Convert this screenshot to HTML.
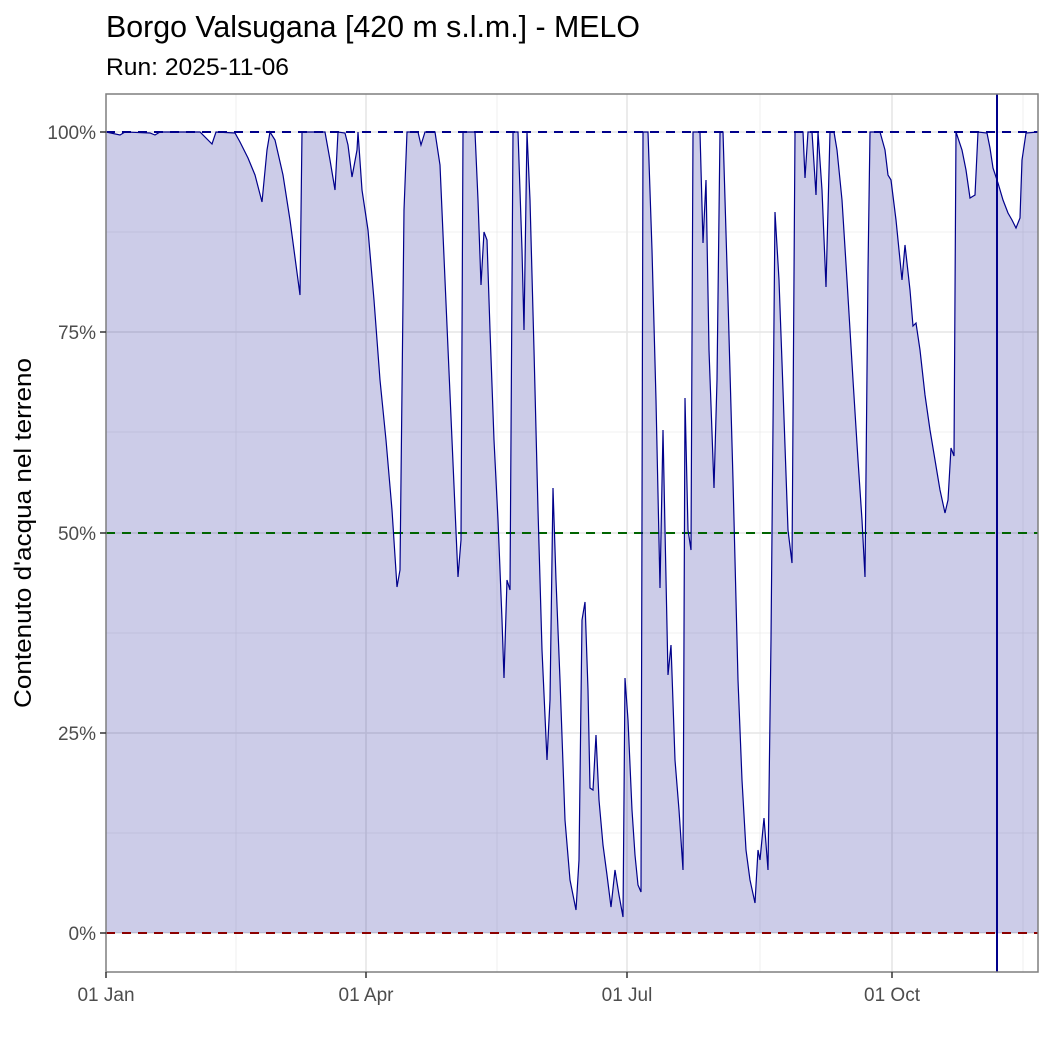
<!DOCTYPE html>
<html><head><meta charset="utf-8"><style>html,body{margin:0;padding:0;background:#fff}svg{display:block}</style></head>
<body>
<svg width="1050" height="1050" xmlns="http://www.w3.org/2000/svg" font-family="Liberation Sans, sans-serif">
<rect width="1050" height="1050" fill="#fff"/>
<text x="106" y="37" font-size="31" fill="#000" textLength="534" lengthAdjust="spacingAndGlyphs">Borgo Valsugana [420 m s.l.m.] - MELO</text>
<text x="106" y="75" font-size="24" fill="#000" textLength="183" lengthAdjust="spacingAndGlyphs">Run: 2025-11-06</text>
<g stroke="#ebebeb" stroke-width="0.8">
<line x1="106" x2="1038" y1="232" y2="232"/><line x1="106" x2="1038" y1="432" y2="432"/><line x1="106" x2="1038" y1="633" y2="633"/><line x1="106" x2="1038" y1="833" y2="833"/>
<line y1="94" y2="972" x1="236" x2="236"/><line y1="94" y2="972" x1="497" x2="497"/><line y1="94" y2="972" x1="760" x2="760"/><line y1="94" y2="972" x1="1023" x2="1023"/>
</g>
<g stroke="#e6e6e6" stroke-width="1.6">
<line x1="106" x2="1038" y1="132" y2="132"/><line x1="106" x2="1038" y1="332" y2="332"/><line x1="106" x2="1038" y1="533" y2="533"/><line x1="106" x2="1038" y1="733" y2="733"/><line x1="106" x2="1038" y1="933" y2="933"/>
<line y1="94" y2="972" x1="366" x2="366"/><line y1="94" y2="972" x1="627" x2="627"/><line y1="94" y2="972" x1="892" x2="892"/>
</g>
<polygon fill="rgba(0,0,139,0.2)" points="106,933 106,132 120,135 125,132 150,133 155,135 160,132 200,132 212,144 216,132 235,133 240,142 248,158 255,175 262,202 267,150 270,132 275,140 283,175 290,220 298,280 300,295 302,132 325,132 330,160 335,190 338,132 345,133 348,145 352,177 357,150 358,132 362,190 368,230 374,300 380,380 386,440 392,510 397,587 400,570 404,210 407,132 418,132 421,145 425,132 435,132 440,165 445,280 452,440 458,577 461,540 463,132 475,132 478,200 481,285 484,232 487,240 490,330 494,440 498,520 502,620 504,678 507,580 510,590 513,132 518,132 522,250 524,330 527,132 530,200 534,350 538,510 542,650 547,760 550,700 553,488 556,580 560,680 565,820 570,880 576,910 579,860 582,620 585,602 588,690 590,788 593,790 596,735 599,800 603,845 607,875 611,907 615,870 619,895 623,917 625,678 628,720 632,810 635,855 638,885 641,892 643,132 648,132 652,250 656,400 660,588 663,430 665,530 668,675 671,645 675,760 679,810 683,870 685,398 688,530 691,550 693,132 700,132 703,243 706,180 709,350 714,488 717,380 720,132 723,132 728,300 733,480 738,680 742,780 746,850 750,880 755,903 758,850 760,860 764,818 768,870 771,640 775,212 779,280 783,390 788,530 792,563 795,132 803,132 805,178 808,132 812,132 816,195 818,132 822,190 826,287 830,132 834,132 837,150 842,200 847,280 853,380 858,460 862,520 865,577 868,270 870,132 880,132 885,150 888,175 891,180 896,220 902,280 905,245 910,290 913,326 916,323 920,350 925,395 930,430 935,460 940,490 945,513 948,500 951,448 954,456 956,132 962,150 966,170 970,198 975,195 978,132 987,133 990,148 993,168 998,183 1003,200 1008,213 1012,220 1016,228 1020,218 1022,160 1026,133 1038,132 1038,933"/>
<g stroke-width="2" stroke-dasharray="9,7" fill="none">
<line x1="106" x2="1038" y1="132" y2="132" stroke="#00008b"/>
<line x1="106" x2="1038" y1="533" y2="533" stroke="#006400"/>
<line x1="106" x2="1038" y1="933" y2="933" stroke="#8b0000"/>
</g>
<polyline fill="none" stroke="#00008b" stroke-width="1.2" points="106,132 120,135 125,132 150,133 155,135 160,132 200,132 212,144 216,132 235,133 240,142 248,158 255,175 262,202 267,150 270,132 275,140 283,175 290,220 298,280 300,295 302,132 325,132 330,160 335,190 338,132 345,133 348,145 352,177 357,150 358,132 362,190 368,230 374,300 380,380 386,440 392,510 397,587 400,570 404,210 407,132 418,132 421,145 425,132 435,132 440,165 445,280 452,440 458,577 461,540 463,132 475,132 478,200 481,285 484,232 487,240 490,330 494,440 498,520 502,620 504,678 507,580 510,590 513,132 518,132 522,250 524,330 527,132 530,200 534,350 538,510 542,650 547,760 550,700 553,488 556,580 560,680 565,820 570,880 576,910 579,860 582,620 585,602 588,690 590,788 593,790 596,735 599,800 603,845 607,875 611,907 615,870 619,895 623,917 625,678 628,720 632,810 635,855 638,885 641,892 643,132 648,132 652,250 656,400 660,588 663,430 665,530 668,675 671,645 675,760 679,810 683,870 685,398 688,530 691,550 693,132 700,132 703,243 706,180 709,350 714,488 717,380 720,132 723,132 728,300 733,480 738,680 742,780 746,850 750,880 755,903 758,850 760,860 764,818 768,870 771,640 775,212 779,280 783,390 788,530 792,563 795,132 803,132 805,178 808,132 812,132 816,195 818,132 822,190 826,287 830,132 834,132 837,150 842,200 847,280 853,380 858,460 862,520 865,577 868,270 870,132 880,132 885,150 888,175 891,180 896,220 902,280 905,245 910,290 913,326 916,323 920,350 925,395 930,430 935,460 940,490 945,513 948,500 951,448 954,456 956,132 962,150 966,170 970,198 975,195 978,132 987,133 990,148 993,168 998,183 1003,200 1008,213 1012,220 1016,228 1020,218 1022,160 1026,133 1038,132"/>
<line x1="997" x2="997" y1="94" y2="972" stroke="#00008b" stroke-width="2"/>
<rect x="106" y="94" width="932" height="878" fill="none" stroke="#7f7f7f" stroke-width="1.5"/>
<g stroke="#333" stroke-width="1.5">
<line x1="100" x2="106" y1="132" y2="132"/><line x1="100" x2="106" y1="332" y2="332"/><line x1="100" x2="106" y1="533" y2="533"/><line x1="100" x2="106" y1="733" y2="733"/><line x1="100" x2="106" y1="933" y2="933"/>
<line y1="972" y2="978" x1="106" x2="106"/><line y1="972" y2="978" x1="366" x2="366"/><line y1="972" y2="978" x1="627" x2="627"/><line y1="972" y2="978" x1="892" x2="892"/>
</g>
<g font-size="19" fill="#4d4d4d" text-anchor="end">
<text x="96" y="139">100%</text><text x="96" y="339">75%</text><text x="96" y="540">50%</text><text x="96" y="740">25%</text><text x="96" y="940">0%</text>
</g>
<g font-size="19" fill="#4d4d4d" text-anchor="middle">
<text x="106" y="1001">01 Jan</text><text x="366" y="1001">01 Apr</text><text x="627" y="1001">01 Jul</text><text x="892" y="1001">01 Oct</text>
</g>
<text transform="translate(31,533) rotate(-90)" font-size="24" fill="#000" text-anchor="middle" textLength="350" lengthAdjust="spacingAndGlyphs">Contenuto d'acqua nel terreno</text>
</svg>
</body></html>
